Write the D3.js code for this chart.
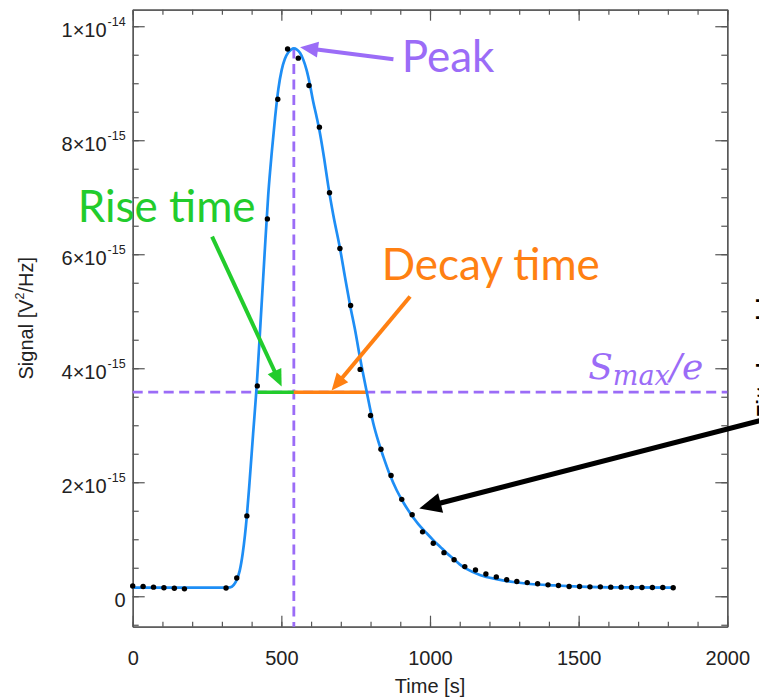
<!DOCTYPE html>
<html><head><meta charset="utf-8">
<script src="https://cdn.jsdelivr.net/npm/d3@7"></script>
<style>body{margin:0;background:#fff} svg{display:block}</style>
</head><body>
<svg id="chart" width="759" height="700"></svg>
<script>
// ---- data (signal in units of 1e-15 V^2/Hz) ----
const obsTime = [0,35,70,105,140,174,
  314,350,384,419,453,488,521,557,593,628,662,697,733,765,800,835,869,905,940,975,1011,1047,
  1081,1117,1153,1188,1223,1258,1292,1327,1362,1397,1432,1468,1503,1538,1573,1608,1643,1678,1713,1748,1783,1818];
const obsSignal = [0.18,0.17,0.16,0.15,0.14,0.13,
  0.145,0.32,1.41,3.69,6.62,8.72,9.60,9.44,8.96,8.23,7.08,6.10,5.10,3.98,3.17,2.58,2.12,1.70,1.43,1.13,0.93,0.765,
  0.64,0.52,0.46,0.39,0.34,0.29,0.26,0.24,0.22,0.20,0.19,0.17,0.17,0.165,0.165,0.16,0.16,0.155,0.155,0.155,0.155,0.15];
const fitTime = [0,100,200,300,327,340,350,360,370,384,393,405,417,430,443,456,468,479,490,501,512,523,533,542,552,563,574,585,596,607,619,630,644,658,675,697,714,731,748,764,787,809,826,843,865,888,910,933,960,989,1010,1034,1056,1078,1100,1123,1170,1224,1280,1336,1420,1504,1650,1818];
const fitSignal = [0.15,0.15,0.15,0.15,0.155,0.2,0.29,0.45,0.75,1.41,2.0,2.85,3.68,4.8,5.95,7.05,7.8,8.4,8.9,9.23,9.43,9.54,9.59,9.61,9.59,9.53,9.41,9.23,8.98,8.68,8.4,8.12,7.68,7.19,6.68,6.11,5.6,5.11,4.67,4.2,3.59,3.04,2.72,2.45,2.13,1.86,1.65,1.46,1.27,1.105,0.99,0.87,0.76,0.66,0.56,0.48,0.37,0.30,0.25,0.215,0.19,0.17,0.155,0.15];
const xTicks = [0,500,1000,1500,2000];
const xTickLabels = ["0","500","1000","1500","2000"];
const yTicks = [0,2,4,6,8,10];
const yTickMantissa = ["0","2\u00d710","4\u00d710","6\u00d710","8\u00d710","1\u00d710"];
const yTickExponent = ["","-15","-15","-15","-15","-14"];
const peakTime = 542, peakSignal = 9.61;
const thresholdSignal = 3.58;   // S_max / e
const riseStartTime = 419, decayEndTime = 789;

// ---- layout ----
const svg = d3.select("#chart");
const xDomain = [0, 2000], yDomain = [-0.534, 10.29];
const L = 132.7, R = 727.3, T = 9.7, B = 626.7;
const x = d3.scaleLinear(xDomain, [L, R]);
const y = d3.scaleLinear(yDomain, [B, T]);
const axisColor = "#555";
const textColor = "#222";
const purple = "#9b6cf7", green = "#22cc2c", orange = "#ff8012", blue = "#1e8ef5";

const xMinor = d3.range(0, 2001, 100);
const yMinor = d3.range(-0.5, 10.01, 0.5);

function styleAxis(g){
  g.selectAll("path.domain").attr("stroke", axisColor).attr("stroke-width", 1.3);
  g.selectAll(".tick line").attr("stroke", axisColor).attr("stroke-width", 1.2);
  g.selectAll(".tick text").attr("fill", textColor).style("font-family","'Liberation Sans', Arial, sans-serif").style("font-size","20px");
}
// bottom
svg.append("g").attr("transform",`translate(0,${B})`)
  .call(d3.axisBottom(x).tickValues(xMinor).tickSize(-5).tickSizeOuter(0).tickFormat("")).call(styleAxis);
svg.append("g").attr("transform",`translate(0,${B})`)
  .call(d3.axisBottom(x).tickValues(xTicks).tickSize(-11).tickSizeOuter(0).tickPadding(24)
    .tickFormat((d,i)=>xTickLabels[i])).call(styleAxis);
// top
svg.append("g").attr("transform",`translate(0,${T})`)
  .call(d3.axisTop(x).tickValues(xMinor).tickSize(-5).tickSizeOuter(0).tickFormat("")).call(styleAxis);
svg.append("g").attr("transform",`translate(0,${T})`)
  .call(d3.axisTop(x).tickValues(xTicks).tickSize(-11).tickSizeOuter(0).tickFormat("")).call(styleAxis);
// left
svg.append("g").attr("transform",`translate(${L},0)`)
  .call(d3.axisLeft(y).tickValues(yMinor).tickSize(-6).tickSizeOuter(0).tickFormat("")).call(styleAxis);
const gl = svg.append("g").attr("transform",`translate(${L},0)`)
  .call(d3.axisLeft(y).tickValues(yTicks).tickSize(-12).tickSizeOuter(0).tickPadding(7)
    .tickFormat("")).call(styleAxis);
gl.selectAll(".tick text").each(function(d,i){
  const t = d3.select(this).attr("dy","0.5em");
  t.append("tspan").text(yTickMantissa[i]);
  if (yTickExponent[i]) t.append("tspan").attr("dy","-11px").attr("dx","1px").style("font-size","12.5px").text(yTickExponent[i]);
});
// right
svg.append("g").attr("transform",`translate(${R},0)`)
  .call(d3.axisRight(y).tickValues(yMinor).tickSize(-6).tickSizeOuter(0).tickFormat("")).call(styleAxis);
svg.append("g").attr("transform",`translate(${R},0)`)
  .call(d3.axisRight(y).tickValues(yTicks).tickSize(-12).tickSizeOuter(0).tickFormat("")).call(styleAxis);

// axis titles
svg.append("text").attr("x", x(1000)).attr("y", 693).attr("text-anchor","middle")
  .attr("fill", textColor).style("font-family","'Liberation Sans', Arial, sans-serif").style("font-size","20px")
  .text("Time [s]");
const yl = svg.append("text").attr("transform",`translate(33,${(T+B)/2}) rotate(-90)`).attr("text-anchor","middle")
  .attr("fill", textColor).style("font-family","'Liberation Sans', Arial, sans-serif").style("font-size","20px");
yl.append("tspan").text("Signal [V");
yl.append("tspan").attr("dy","-9px").style("font-size","12.5px").text("2");
yl.append("tspan").attr("dy","9px").text("/Hz]");

// dashed guide lines
svg.append("line").attr("x1",x(0)).attr("x2",x(2000)).attr("y1",y(thresholdSignal)).attr("y2",y(thresholdSignal))
  .attr("stroke",purple).attr("stroke-width",2.8).attr("stroke-dasharray","10,5.5");
svg.append("line").attr("x1",x(peakTime)).attr("x2",x(peakTime)).attr("y1",y(peakSignal)).attr("y2",y(yDomain[0]))
  .attr("stroke",purple).attr("stroke-width",2.8).attr("stroke-dasharray","10,5.5");

// rise / decay segments
svg.append("line").attr("x1",x(riseStartTime)).attr("x2",x(peakTime)).attr("y1",y(thresholdSignal)).attr("y2",y(thresholdSignal))
  .attr("stroke",green).attr("stroke-width",3.5);
svg.append("line").attr("x1",x(peakTime)).attr("x2",x(decayEndTime)).attr("y1",y(thresholdSignal)).attr("y2",y(thresholdSignal))
  .attr("stroke",orange).attr("stroke-width",3.5);

// fit curve
const fitData = fitTime.map((t,i)=>[t, fitSignal[i]]);
svg.append("path").datum(fitData)
  .attr("d", d3.line().x(d=>x(d[0])).y(d=>y(d[1])).curve(d3.curveMonotoneX))
  .attr("fill","none").attr("stroke",blue).attr("stroke-width",2.7);

// observed points
svg.append("g").selectAll("circle").data(obsTime.map((t,i)=>[t, obsSignal[i]])).join("circle")
  .attr("cx", d=>x(d[0])).attr("cy", d=>y(d[1])).attr("r", 2.7).attr("fill","#000");

// arrows (endpoints in data units)
function arrow(t0, v0, t1, v1, color, w, hl, hw){
  const x0 = x(t0), y0 = y(v0), x1 = x(t1), y1 = y(v1);
  const dx = x1-x0, dy = y1-y0, len = Math.hypot(dx,dy), ux = dx/len, uy = dy/len;
  const bx = x1 - ux*hl, by = y1 - uy*hl;
  svg.append("line").attr("x1",x0).attr("y1",y0).attr("x2",bx+ux*1).attr("y2",by+uy*1)
    .attr("stroke",color).attr("stroke-width",w);
  svg.append("polygon").attr("points",[[x1,y1],[bx-uy*hw,by+ux*hw],[bx+uy*hw,by-ux*hw]].map(p=>p.join(",")).join(" "))
    .attr("fill",color);
}
arrow(267, 6.31, 501, 3.68, green, 4, 17, 7.5);
arrow(933, 5.26, 669, 3.61, orange, 4, 17, 7.5);
arrow(877, 9.42, 563, 9.63, purple, 4, 18, 8);
arrow(2160, 3.15, 964, 1.54, "#000", 5, 22, 10);

// annotation text
const annFont = "Lato, 'Open Sans', sans-serif";
svg.append("text").attr("x", x(905)).attr("y", y(9.2)).attr("fill", purple)
  .style("font-family", annFont).style("font-size","44px").text("Peak");
svg.append("text").attr("x", x(-185)).attr("y", y(6.57)).attr("fill", green)
  .style("font-family", annFont).style("font-size","44px").text("Rise time");
svg.append("text").attr("x", x(837.5)).attr("y", y(5.55)).attr("fill", orange)
  .style("font-family", annFont).style("font-size","44px").text("Decay time");
const sm = svg.append("text").attr("x", x(1532)).attr("y", y(3.82)).attr("fill", purple)
  .style("font-family","'DejaVu Serif', serif").style("font-style","italic").style("font-size","36px");
sm.append("tspan").text("S");
sm.append("tspan").attr("dy","6px").style("font-size","27px").text("max");
sm.append("tspan").attr("dy","-6px").text("/e");

// cut-off side label at the right edge
svg.append("text").attr("transform","translate(771,298) rotate(-90)").attr("text-anchor","end")
  .attr("fill","#000").style("font-family","'Liberation Sans', Arial, sans-serif").style("font-weight","bold")
  .style("font-size","20px").text("Fitted model");
</script>
</body></html>
